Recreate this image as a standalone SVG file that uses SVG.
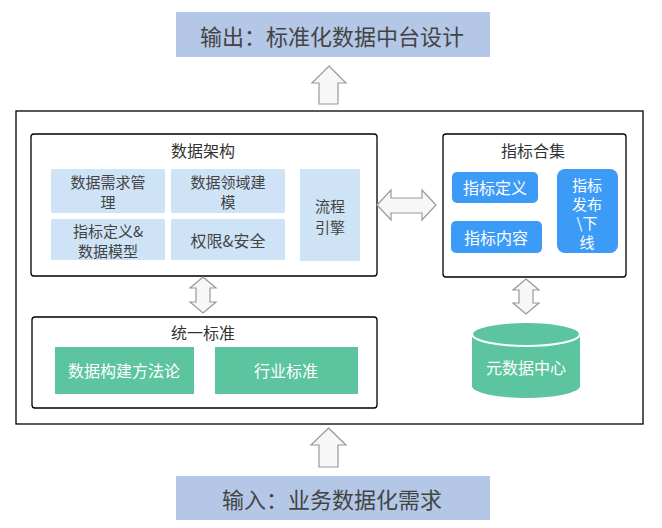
<svg xmlns="http://www.w3.org/2000/svg" width="662" height="528" viewBox="0 0 662 528">
<style>
text{font-family:"Noto Sans CJK SC","Liberation Sans",sans-serif;text-anchor:middle;dominant-baseline:central}
.big{font-size:22px;fill:#444}
.ttl{font-size:16px;fill:#333}
.cell{fill:#cfe3f7}
.ct{font-size:15px;fill:#444}
.ct1{font-size:16px;fill:#444}
.blue{fill:#3d9bf8}
.wt{font-size:16px;fill:#fff}
.wt2{font-size:15px;fill:#fff}
.green{fill:#5cc49f}
.gt{font-size:16px;fill:#fff}
.frame{fill:#fff;stroke:#000;stroke-width:1.3}
.arr{fill:#f7f7f7;stroke:#999;stroke-width:1.2}
</style>
<rect width="662" height="528" fill="#fff"/>
<g id="output">
<rect x="176" y="12" width="314" height="45" fill="#b4c7e7"/>
<text class="big" x="332" y="35">输出：标准化数据中台设计</text>
</g>
<g id="outer">
<rect class="frame" x="16" y="111" width="627" height="313"/>
</g>
<g id="data-arch">
<rect class="frame" x="31" y="134" width="346" height="142" rx="3"/>
<text class="ttl" x="203" y="150">数据架构</text>
<rect class="cell" x="51" y="169" width="114" height="44"/>
<text class="ct" x="108" y="181">数据需求管</text>
<text class="ct" x="108" y="201">理</text>
<rect class="cell" x="171" y="169" width="114" height="44"/>
<text class="ct" x="228" y="181">数据领域建</text>
<text class="ct" x="228" y="201">模</text>
<rect class="cell" x="51" y="219" width="114" height="41"/>
<text class="ct" x="108" y="230">指标定义&amp;</text>
<text class="ct" x="108" y="250">数据模型</text>
<rect class="cell" x="171" y="219" width="114" height="41"/>
<text class="ct1" x="228" y="240">权限&amp;安全</text>
<rect class="cell" x="300" y="169" width="60" height="92"/>
<text class="ct" x="330" y="205">流程</text>
<text class="ct" x="330" y="226">引擎</text>
</g>
<g id="index-set">
<rect class="frame" x="443" y="134" width="183" height="143" rx="3"/>
<text class="ttl" x="533" y="150">指标合集</text>
<rect class="blue" x="452" y="172" width="86" height="31" rx="5"/>
<text class="wt" x="495" y="187">指标定义</text>
<rect class="blue" x="451" y="221" width="91" height="32" rx="5"/>
<text class="wt" x="496" y="237">指标内容</text>
<rect class="blue" x="557" y="169" width="61" height="84" rx="8"/>
<text class="wt2" x="587" y="184">指标</text>
<text class="wt2" x="587" y="203">发布</text>
<text class="wt2" x="587" y="222">\下</text>
<text class="wt2" x="587" y="241">线</text>
</g>
<g id="unified-standard">
<rect class="frame" x="32" y="317" width="345" height="91" rx="3"/>
<text class="ttl" x="203" y="332">统一标准</text>
<rect class="green" x="55" y="347" width="139" height="47"/>
<text class="gt" x="124" y="370">数据构建方法论</text>
<rect class="green" x="215" y="347" width="143" height="47"/>
<text class="gt" x="286" y="370">行业标准</text>
</g>
<g id="metadata-center">
<path class="green" d="M472 334 V386 A54 12 0 0 0 580 386 V334 Z"/>
<ellipse cx="526" cy="334" rx="54" ry="12" fill="#5cc49f" stroke="#fff" stroke-width="2"/>
<text class="gt" x="526" y="367">元数据中心</text>
</g>
<g id="input">
<rect x="176" y="476" width="314" height="44" fill="#b4c7e7"/>
<text class="big" x="332" y="498">输入：业务数据化需求</text>
</g>
<g id="connectors">
<path class="arr" d="M329 66 L346 83 L338 83 L338 104 L319 104 L319 83 L312 83 Z"/>
<path class="arr" d="M328.5 428 L346 445 L338 445 L338 467 L319 467 L319 445 L311 445 Z"/>
<path class="arr" d="M377 205 L391 190 L391 198 L422 198 L422 190 L436 205 L422 220 L422 213 L391 213 L391 220 Z"/>
<path class="arr" d="M203 277 L216 288 L210 288 L210 302 L216 302 L203 313 L190 302 L196 302 L196 288 L190 288 Z"/>
<path class="arr" d="M526 279 L539 290 L533 290 L533 303 L539 303 L526 314 L513 303 L519 303 L519 290 L513 290 Z"/>
</g>
</svg>
